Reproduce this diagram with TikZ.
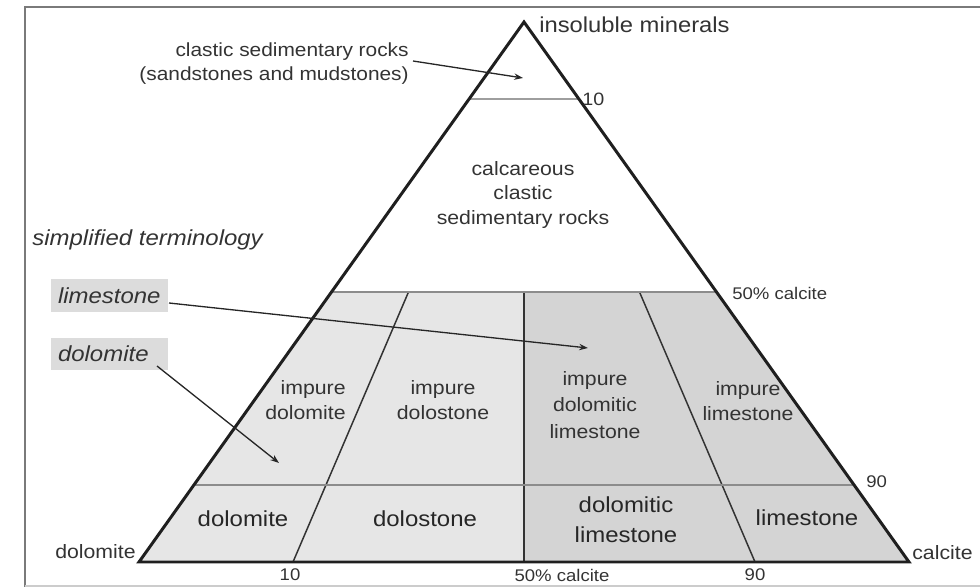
\documentclass[tikz,border=0pt]{standalone}
\usepackage{fontspec}
\setmainfont{Liberation Sans}[FakeStretch=1.1]
\usetikzlibrary{arrows.meta,calc}
\definecolor{txt}{HTML}{333333}
\definecolor{lightfill}{HTML}{E6E6E6}
\definecolor{darkfill}{HTML}{D4D4D4}
\definecolor{boxfill}{HTML}{DCDCDC}
\definecolor{grayline}{HTML}{8C8C8C}
\definecolor{frameline}{HTML}{7A7A7A}
\begin{document}
\begin{tikzpicture}[x=0.02cm,y=-0.02cm,
  smalltxt/.style={font=\fontsize{9.6}{11}\selectfont, text=txt, inner sep=0pt},
  midtxt/.style={font=\fontsize{11}{14.5}\selectfont, text=txt, inner sep=0pt, align=center},
  bigtxt/.style={font=\fontsize{12.4}{17}\selectfont, text=black!85, inner sep=0pt, align=center},
  ittxt/.style={font=\fontsize{12.4}{15}\selectfont\itshape, text=txt, inner sep=0pt},
  termbox/.style={fill=boxfill, font=\fontsize{12.4}{15}\selectfont\itshape, text=txt,
    minimum width=2.34cm, minimum height=0.66cm, inner xsep=0.14cm, inner ysep=0pt,
    text width=2.06cm, align=left},
  divline/.style={draw=black!80, line width=0.85pt},
  hline/.style={draw=grayline, line width=1.6pt},
  arr/.style={draw=black!85, line width=0.75pt, -{Stealth[length=5pt,width=3.6pt]}}]
\useasboundingbox (0,0) rectangle (980,587);
% frame
\draw[frameline, line width=1.4pt] (25,587) -- (25,7) -- (980,7);
\draw[black!20, line width=0.8pt] (25,586) -- (980,586);
% triangle corners
\coordinate (A) at (524,22);
\coordinate (L) at (139,562);
\coordinate (R) at (909,562);
\coordinate (L50) at ($(A)!0.5!(L)$);
\coordinate (R50) at ($(A)!0.5!(R)$);
\coordinate (L90) at ($(A)!0.8574!(L)$);
\coordinate (R90) at ($(A)!0.8574!(R)$);
\coordinate (L10) at ($(A)!0.1426!(L)$);
\coordinate (R10) at ($(A)!0.1426!(R)$);
\coordinate (M50) at (524,292);
\coordinate (MB) at (524,562);
\coordinate (B20) at (293,562);
\coordinate (B80) at (755,562);
\coordinate (T20) at ($(B20)!0.5!(A)$);
\coordinate (T80) at ($(B80)!0.5!(A)$);
% fills
\fill[lightfill] (L50) -- (M50) -- (MB) -- (L) -- cycle;
\fill[darkfill] (M50) -- (R50) -- (R) -- (MB) -- cycle;
% division lines
\draw[divline] (M50) -- (MB);
\draw[divline] (B20) -- (T20);
\draw[divline] (B80) -- (T80);
\draw[hline] (L50) -- (R50);
\draw[hline] (L90) -- (R90);
\draw[draw=black!38, line width=1.6pt] (L10) -- (R10);
% triangle outline
\draw[black!88, line width=1.7pt, line join=miter] (A) -- (L) -- (R) -- cycle;
% labels
\node[midtxt, anchor=west, font=\fontsize{12.3}{14}\selectfont] (insol) at (539,25) {insoluble minerals};
\node[midtxt, anchor=east, align=right, font=\fontsize{10.8}{13.6}\selectfont] (clastic) at (409,64) {clastic sedimentary rocks\\(sandstones and mudstones)};
\node[smalltxt, anchor=west, font=\fontsize{10.2}{12}\selectfont] (ten) at (582,99) {10};
\node[midtxt, font=\fontsize{11}{14.2}\selectfont] (calc) at (523,195) {calcareous\\clastic\\sedimentary rocks};
\node[ittxt, anchor=west] (simp) at (32,240) {simplified terminology};
\node[termbox] (limebox) at (109.5,295.5) {limestone};
\node[termbox] (dolobox) at (109.5,354) {dolomite};
\node[smalltxt, anchor=west] (fiftyR) at (732,293) {50\% calcite};
\node[midtxt, anchor=east, align=right] (impdolomite) at (346,400) {impure\\dolomite};
\node[midtxt] (impdolostone) at (443,400) {impure\\dolostone};
\node[midtxt, font=\fontsize{11}{15.3}\selectfont] (impdollime) at (595,405) {impure\\dolomitic\\limestone};
\node[midtxt] (implime) at (748,401) {impure\\limestone};
\node[smalltxt, anchor=west] (ninetyR) at (866,482) {90};
\node[bigtxt] (dolomite) at (243,519) {dolomite};
\node[bigtxt] (dolostone) at (425,519) {dolostone};
\node[bigtxt] (dollime) at (626,520) {dolomitic\\limestone};
\node[bigtxt] (lime) at (807,518) {limestone};
\node[midtxt, anchor=east] (cornerdol) at (136,552) {dolomite};
\node[midtxt, anchor=west] (cornercal) at (912,553) {calcite};
\node[smalltxt] (tenB) at (290,575) {10};
\node[smalltxt] (fiftyB) at (562,575) {50\% calcite};
\node[smalltxt] (ninetyB) at (755,575) {90};
% arrows
\coordinate (c1s) at (413,61);
\coordinate (c1e) at (523,78);
\coordinate (c2s) at (169,303);
\coordinate (c2e) at (588,348);
\coordinate (c3s) at (157,366);
\coordinate (c3e) at (279,463);
\draw[arr] (c1s) -- (c1e);
\draw[arr] (c2s) -- (c2e);
\draw[arr] (c3s) -- (c3e);
\end{tikzpicture}
\end{document}
